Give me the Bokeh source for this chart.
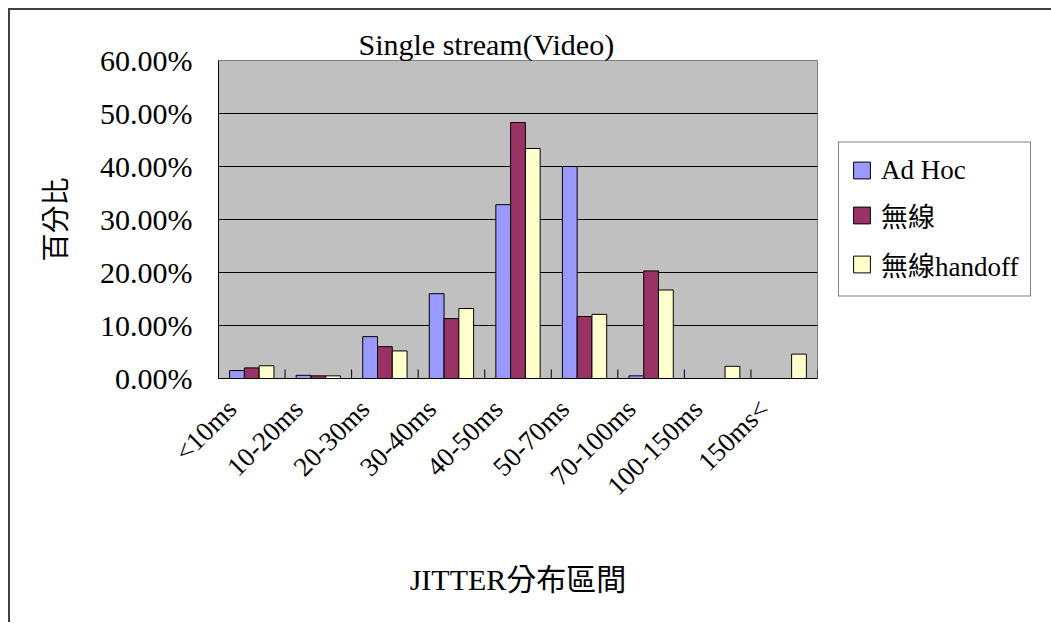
from bokeh.plotting import figure
from bokeh.models import (ColumnDataSource, FactorRange, Range1d, FixedTicker,
                          PrintfTickFormatter, Legend, LegendItem, LinearAxis,
                          CustomJSTickFormatter)
from bokeh.transform import dodge
from bokeh.embed import file_html
from bokeh.resources import INLINE
import math

categories = ["<10ms", "10-20ms", "20-30ms", "30-40ms", "40-50ms",
              "50-70ms", "70-100ms", "100-150ms", "150ms<"]
adhoc = [1.5, 0.6, 7.9, 16.0, 32.8, 40.0, 0.5, 0.0, 0.0]
wireless = [2.0, 0.5, 6.0, 11.3, 48.3, 11.7, 20.3, 0.0, 0.0]
handoff = [2.4, 0.5, 5.2, 13.2, 43.4, 12.1, 16.7, 2.3, 4.6]
series_names = ["Ad Hoc", "無線", "無線handoff"]
series_colors = ["#9999FF", "#993366", "#FFFFCC"]
y_ticks = [0, 10, 20, 30, 40, 50, 60]

FONT = "'Liberation Serif', 'Noto Sans CJK TC'"

src = ColumnDataSource(dict(cat=categories, adhoc=adhoc, wireless=wireless, handoff=handoff))

FL, FT = 208, 50
FW, FH = 599, 318
H = 612

p = figure(x_range=FactorRange(*categories), y_range=Range1d(0, 60),
           frame_width=FW, frame_height=FH, output_backend="svg", toolbar_location=None,
           x_axis_location=None,
           min_border_left=FL, min_border_right=0,
           min_border_top=FT, min_border_bottom=H - FT - FH)
p.styles = {"margin-left": "8px", "margin-top": "8px",
            "border-left": "2px solid #404040", "border-top": "2px solid #404040"}

p.background_fill_color = "#C0C0C0"
p.border_fill_color = "white"
p.outline_line_color = "#808080"
p.outline_line_width = 1

bw = 0.222
renderers = []
for i, (col, color) in enumerate(zip(["adhoc", "wireless", "handoff"], series_colors)):
    r = p.vbar(x=dodge("cat", (i - 1) * bw, range=p.x_range), top=col, width=bw,
               source=src, fill_color=color, line_color="black", line_width=1)
    renderers.append(r)

# category boundary tick marks (inside)
bounds = list(range(1, len(categories) + 1))
p.segment(x0=bounds, x1=bounds, y0=[0] * len(bounds), y1=[1.7] * len(bounds),
          line_color="black", line_width=1)

# title
p.title.text = "Single stream(Video)"
p.title.align = "left"
p.title.offset = 140
p.title.text_font = FONT
p.title.text_font_size = "30px"
p.title.text_font_style = "normal"
p.title.text_color = "black"
p.title.standoff = 0

# y axis
p.yaxis.ticker = FixedTicker(ticks=y_ticks)
p.yaxis.formatter = PrintfTickFormatter(format="%.2f%%")
p.yaxis.major_tick_out = 0
p.yaxis.major_tick_in = 0
p.yaxis.minor_tick_line_color = None
p.yaxis.major_label_standoff = 26
p.yaxis.major_label_text_font = FONT
p.yaxis.major_label_text_font_size = "30px"
p.yaxis.major_label_text_color = "black"
p.yaxis.axis_line_color = "black"
p.yaxis.axis_label = "百分比"
p.yaxis.axis_label_text_font = FONT
p.yaxis.axis_label_text_font_size = "28px"
p.yaxis.axis_label_text_font_style = "normal"
p.yaxis.axis_label_text_color = "black"
p.yaxis.axis_label_standoff = 25

# x axis: labels anchored slightly left of each category centre (Excel style)
label_pos = [i + 0.2 for i in range(len(categories))]
xaxis = LinearAxis(ticker=FixedTicker(ticks=label_pos),
                   formatter=CustomJSTickFormatter(args=dict(cats=categories),
                                                   code="return cats[Math.floor(tick)]"))
xaxis.major_tick_line_color = None
xaxis.minor_tick_line_color = None
xaxis.axis_line_color = "black"
xaxis.major_label_orientation = math.pi / 4
xaxis.major_label_standoff = 20
xaxis.major_label_text_font = FONT
xaxis.major_label_text_font_size = "27px"
xaxis.major_label_text_color = "black"
xaxis.axis_label = "JITTER分布區間"
xaxis.axis_label_text_font = FONT
xaxis.axis_label_text_font_size = "30px"
xaxis.axis_label_text_font_style = "normal"
xaxis.axis_label_text_color = "black"
xaxis.axis_label_standoff = 48
p.add_layout(xaxis, "below")

p.xgrid.grid_line_color = None
p.ygrid.grid_line_color = "black"
p.ygrid.grid_line_width = 1

legend = Legend(items=[LegendItem(label=n, renderers=[r]) for n, r in zip(series_names, renderers)],
                location="center_left", orientation="vertical")
legend.border_line_color = "black"
legend.border_line_width = 1
legend.background_fill_color = "white"
legend.background_fill_alpha = 1
legend.label_text_font = FONT
legend.label_text_font_size = "27px"
legend.label_text_color = "black"
legend.glyph_width = 21
legend.glyph_height = 21
legend.label_standoff = 9
legend.spacing = 10
legend.padding = 12
legend.margin = 21
p.add_layout(legend, "right")

open("out.html", "w").write(file_html(p, INLINE))
